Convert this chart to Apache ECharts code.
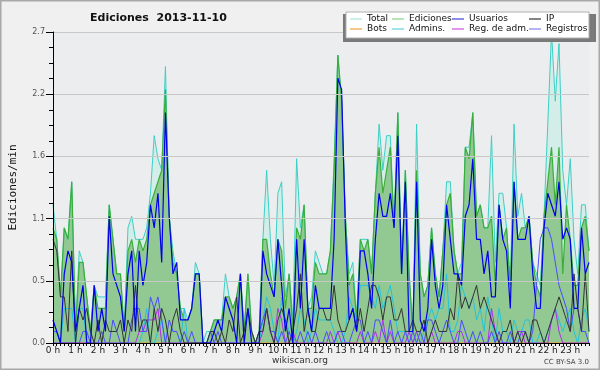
<!DOCTYPE html>
<html><head><meta charset="utf-8">
<script src="https://cdn.jsdelivr.net/npm/echarts@6/dist/echarts.min.js"></script>
<style>html,body{margin:0;padding:0;background:#f0f0f0}#c{width:600px;height:370px}</style>
</head><body><div id="c"></div>
<script>
const hourLabels = ['0 h','1 h','2 h','3 h','4 h','5 h','6 h','7 h','8 h','9 h','10 h','11 h','12 h','13 h','14 h','15 h','16 h','17 h','18 h','19 h','20 h','21 h','22 h','23 h'];

const total = [1.2,0.9,0.4,1.0,0.9,1.4,0.1,0.8,0.7,0.4, 0.1,0.5,0.4,0.4,0.4,1.2,0.9,0.6,0.6,0.1, 1.0,1.1,0.9,0.9,0.9,1.0,1.3,1.8,1.6,1.5, 2.4,1.1,0.8,0.6,0.3,0.3,
 0.2,0.3,0.7,0.6,0.0,0.1,0.1,0.2,0.2,0.2, 0.6,0.4,0.3,0.4,0.6,0.1,0.6,0.1,0.0,0.1, 0.9,1.5,0.9,0.5,1.3,1.4,0.4,0.6,0.2,1.6, 1.0,1.2,0.3,0.4,0.8,0.7,
 0.6,0.6,0.8,1.6,2.5,2.1,1.1,0.6,0.7,0.2, 0.9,0.9,0.9,0.6,1.3,1.9,1.5,1.8,1.8,1.0, 2.0,0.6,1.5,0.6,0.1,1.9,0.6,0.4,0.5,1.0, 0.6,0.4,0.8,1.4,1.4,0.8,
 0.6,0.7,1.7,1.7,2.0,1.1,1.2,1.0,1.0,1.8, 0.7,1.3,1.3,1.0,0.5,1.9,1.1,1.3,1.0,1.1, 0.7,0.6,0.5,1.1,1.9,2.7,2.1,2.6,1.5,1.2, 1.6,0.9,0.6,1.2,1.2,0.8];
const ediciones = [1.0,0.9,0.4,1.0,0.9,1.4,0.1,0.7,0.7,0.4, 0.1,0.5,0.3,0.3,0.3,1.2,0.9,0.6,0.6,0.1, 0.8,0.9,0.7,0.9,0.8,0.9,1.2,1.3,1.4,1.5, 2.2,1.1,0.7,0.6,0.3,0.2,
 0.2,0.3,0.6,0.6,0.0,0.0,0.1,0.2,0.2,0.2, 0.4,0.4,0.3,0.4,0.6,0.1,0.6,0.1,0.0,0.1, 0.9,0.9,0.6,0.4,0.9,0.8,0.3,0.6,0.1,1.0, 0.9,1.2,0.3,0.3,0.7,0.6,
 0.6,0.6,0.8,1.5,2.5,2.1,1.1,0.5,0.6,0.2, 0.9,0.8,0.9,0.6,1.3,1.7,1.3,1.5,1.7,1.0, 2.0,0.6,1.5,0.6,0.1,1.5,0.6,0.4,0.5,1.0, 0.6,0.4,0.8,1.2,1.3,0.8,
 0.6,0.6,1.7,1.6,2.0,1.1,1.2,1.0,1.0,1.1, 0.5,1.2,0.9,1.0,0.5,1.4,0.9,1.0,1.0,1.1, 0.7,0.5,0.4,1.1,1.4,1.7,1.2,1.7,0.6,1.2, 0.9,0.5,0.5,1.0,1.1,0.8];
const usuarios = [0.2,0.1,0.0,0.6,0.8,0.7,0.1,0.3,0.5,0.0, 0.0,0.5,0.1,0.3,0.1,1.1,0.6,0.5,0.4,0.1, 0.6,0.8,0.1,0.8,0.5,0.7,1.2,1.0,1.3,0.7, 2.0,1.1,0.6,0.7,0.2,0.2,
 0.2,0.3,0.6,0.6,0.0,0.0,0.0,0.1,0.2,0.1, 0.4,0.3,0.2,0.0,0.6,0.0,0.3,0.0,0.0,0.0, 0.8,0.6,0.5,0.4,0.9,0.5,0.1,0.3,0.0,0.9, 0.3,0.9,0.3,0.1,0.5,0.3,
 0.3,0.3,0.3,0.9,2.3,2.2,1.0,0.2,0.3,0.1, 0.8,0.8,0.6,0.3,0.9,1.3,1.1,1.1,1.3,1.0, 1.8,0.6,1.4,0.1,0.1,1.4,0.2,0.1,0.3,0.9, 0.5,0.3,0.5,1.2,0.9,0.6,
 0.6,0.5,1.1,1.2,1.6,0.9,0.9,0.6,0.8,0.4, 0.4,1.2,0.9,0.8,0.3,1.4,0.9,0.9,0.9,1.1, 0.6,0.3,0.3,1.0,1.3,1.2,1.1,1.4,0.9,1.0, 0.9,0.3,0.3,1.0,0.6,0.7];
const ip = [0.9,0.8,0.4,0.4,0.1,0.8,0.0,0.3,0.2,0.3, 0.1,0.0,0.2,0.0,0.2,0.1,0.1,0.1,0.2,0.0, 0.2,0.1,0.5,0.1,0.2,0.2,0.0,0.3,0.1,0.3, 0.2,0.0,0.2,0.3,0.1,0.0,
 0.0,0.0,0.0,0.0,0.0,0.0,0.1,0.1,0.0,0.1, 0.0,0.2,0.1,0.4,0.0,0.1,0.3,0.1,0.0,0.1, 0.1,0.3,0.1,0.0,0.2,0.3,0.2,0.0,0.1,0.3, 0.6,0.1,0.3,0.1,0.1,0.3,
 0.3,0.2,0.2,0.5,0.2,0.1,0.1,0.2,0.3,0.1, 0.3,0.1,0.3,0.5,0.5,0.4,0.2,0.4,0.4,0.2, 0.2,0.3,0.1,0.1,0.2,0.1,0.1,0.2,0.0,0.1, 0.2,0.1,0.1,0.1,0.3,0.2,
 0.6,0.3,0.4,0.3,0.4,0.5,0.3,0.4,0.3,0.2, 0.1,0.0,0.1,0.1,0.2,0.0,0.1,0.0,0.1,0.0, 0.2,0.2,0.1,0.0,0.1,0.2,0.3,0.4,0.3,0.2, 0.1,0.6,0.3,0.1,0.6,0.1];
const bots = [0,0,0,0,0,0,0,0,0,0,0,0,0,0,0,0,0,0,0,0,0,0,0,0,0,0,0,0,0,0,0,0,0,0,0,0,
 0,0,0,0,0,0,0,0,0,0,0,0,0,0,0,0,0,0,0,0,0,0,0,0,0,0,0,0,0,0,0,0,0,0,0,0,
 0,0,0,0,0,0,0,0,0,0,0,0,0,0,0,0,0,0,0,0,0,0,0,0,0,0,0,0,0,0,0,0,0,0,0,0,
 0,0,0,0,0,0,0,0,0,0,0,0,0,0,0,0,0,0,0,0,0,0,0,0,0,0,0,0,0,0,0,0,0,0,0,0];
const admins = [0.0,0.0,0.0,0.3,0.3,0.3,0.0,0.3,0.3,0.0, 0.0,0.0,0.0,0.0,0.0,0.0,0.0,0.0,0.0,0.0, 0.0,0.0,0.0,0.0,0.1,0.3,0.0,0.0,0.1,0.2, 0.0,0.0,0.0,0.0,0.0,0.3,
 0.0,0.0,0.0,0.0,0.0,0.0,0.0,0.0,0.0,0.0, 0.0,0.0,0.0,0.0,0.0,0.0,0.0,0.0,0.0,0.0, 0.2,0.4,0.3,0.1,0.0,0.4,0.2,0.1,0.0,0.1, 0.3,0.2,0.0,0.1,0.3,0.2,
 0.2,0.2,0.2,0.1,0.0,0.0,0.1,0.4,0.3,0.2, 0.5,0.5,0.5,0.4,0.3,0.5,0.3,0.4,0.5,0.3, 0.1,0.1,0.1,0.1,0.0,0.1,0.0,0.1,0.2,0.3, 0.2,0.3,0.3,0.6,0.1,0.1,
 0.2,0.5,0.4,0.3,0.4,0.2,0.3,0.1,0.4,0.2, 0.0,0.3,0.1,0.1,0.0,0.2,0.1,0.1,0.2,0.2, 0.0,0.0,0.1,0.0,0.1,0.2,0.3,0.2,0.1,0.2, 0.3,0.1,0.0,0.2,0.3,0.1];
const regAdm = [0,0,0,0,0,0,0,0,0,0, 0,0,0,0,0,0,0,0,0,0, 0,0,0,0.1,0.1,0.2,0.2,0.2,0.3,0, 0,0,0,0,0,0,
 0,0,0,0,0,0,0,0,0,0, 0,0,0,0,0,0,0,0,0,0, 0.1,0.3,0.1,0,0.3,0.2,0,0,0.1,0, 0,0,0,0,0,0,
 0,0,0.1,0,0.1,0,0,0,0,0, 0.1,0,0,0,0.1,0,0.2,0,0.1,0, 0,0,0,0.1,0,0.1,0,0,0,0.1, 0,0,0,0,0,0,
 0.1,0.1,0,0,0,0,0,0,0,0.3, 0.1,0,0,0,0,0,0.1,0.1,0,0, 0,0,0,0,0,0.2,0.3,0.1,0,0, 0,0,0,0,0,0];
const registros = [0.1,0.1,0.0,0.0,0.0,0.0,0.0,0.0,0.1,0.1, 0.0,0.0,0.0,0.1,0.0,0.0,0.2,0.1,0.0,0.0, 0.0,0.2,0.3,0.3,0.1,0.1,0.4,0.3,0.4,0.2, 0.0,0.2,0.1,0.1,0.0,0.1,
 0.0,0.1,0.0,0.0,0.0,0.0,0.1,0.0,0.1,0.0, 0.0,0.0,0.0,0.0,0.0,0.0,0.0,0.0,0.0,0.1, 0.2,0.3,0.1,0.1,0.0,0.1,0.0,0.1,0.0,0.0, 0.1,0.0,0.1,0.0,0.1,0.0,
 0.0,0.1,0.0,0.0,0.1,0.1,0.0,0.0,0.1,0.2, 0.2,0.0,0.1,0.0,0.2,0.2,0.1,0.0,0.2,0.0, 0.1,0.0,0.1,0.0,0.1,0.0,0.1,0.0,0.2,0.2, 0.1,0.0,0.1,0.2,0.1,0.0,
 0.0,0.2,0.1,0.0,0.1,0.0,0.1,0.0,0.0,0.1, 0.0,0.1,0.0,0.0,0.1,0.0,0.0,0.1,0.1,0.0, 0.1,0.5,0.9,1.0,1.0,0.9,0.7,0.5,0.4,0.3, 0.1,0.3,0.3,0.1,0.1,0.0];

const times = [];
for (let h = 0; h < 24; h++) for (let m = 0; m < 60; m += 10) times.push(h + ':' + (m < 10 ? '0' : '') + m);

const F = '"DejaVu Sans", sans-serif';
const colCls = {'Total':'a','Bots':'a','Ediciones':'b','Admins.':'b','Usuarios':'c','Reg. de adm.':'c','IP':'d','Registros':'d'};

function line(name, data, lineColor, legendColor, width, extra) {
  return Object.assign({
    name, type: 'line', data, showSymbol: false, symbol: 'none', animation: false,
    itemStyle: {color: legendColor},
    lineStyle: {color: lineColor, width: width},
    emphasis: {disabled: true}
  }, extra || {});
}

const chart = echarts.init(document.getElementById('c'), null, {renderer: 'canvas'});
chart.setOption({
  backgroundColor: '#f0f0f0',
  animation: false,
  title: {
    text: 'Ediciones  2013-11-10', left: 85, top: 8,
    textStyle: {fontFamily: F, fontSize: 11, fontWeight: 'bold', color: '#111'}
  },
  grid: {left: 46, right: 11, top: 32, bottom: 27, show: true, backgroundColor: '#ecedef', borderWidth: 0},
  legend: {
    left: 350, top: 14, width: 246, padding: 0, itemGap: 0,
    itemWidth: 12, itemHeight: 1.2, icon: 'rect', z: 20,
    data: ['Total','Ediciones','Usuarios','IP','Bots','Admins.','Reg. de adm.','Registros'],
    formatter: n => '{' + colCls[n] + '|' + n + '}',
    textStyle: {
      fontFamily: F, fontSize: 9, color: '#111', lineHeight: 10,
      rich: {
        a: {width: 25, fontFamily: F, fontSize: 9, color: '#111', lineHeight: 10},
        b: {width: 43, fontFamily: F, fontSize: 9, color: '#111', lineHeight: 10},
        c: {width: 60, fontFamily: F, fontSize: 9, color: '#111', lineHeight: 10},
        d: {width: 44, fontFamily: F, fontSize: 9, color: '#111', lineHeight: 10}
      }
    },
    selectedMode: false
  },
  xAxis: {
    type: 'category', data: times, boundaryGap: false, z: 5,
    axisLine: {lineStyle: {color: '#000', width: 1}},
    axisTick: {show: true, interval: 0, length: 3, lineStyle: {color: '#000'}},
    axisLabel: {
      interval: 5, margin: 3, fontFamily: F, fontSize: 9, color: '#222',
      formatter: (v, i) => hourLabels[Math.round(i / 6)]
    },
    splitLine: {show: false}
  },
  yAxis: {
    type: 'value', min: 0, max: 2.7, interval: 0.54, z: 5,
    name: 'Ediciones/min', nameLocation: 'middle', nameGap: 34, nameRotate: 90,
    nameTextStyle: {fontFamily: '"DejaVu Sans Mono", monospace', fontSize: 11, color: '#111'},
    axisLine: {show: true, lineStyle: {color: '#000'}},
    axisTick: {show: true, length: 7, lineStyle: {color: '#000'}},
    minorTick: {show: true, splitNumber: 4, length: 4, lineStyle: {color: '#000'}},
    axisLabel: {margin: 8, fontFamily: F, fontSize: 8, color: '#555', formatter: v => v.toFixed(1)},
    splitLine: {show: true, lineStyle: {color: '#c8c8c8', width: 1}}
  },
  series: [
    line('Total', total, '#3ccfc6', '#a8e6dc', 1, {areaStyle: {color: '#d3eee8', opacity: 1}}),
    line('Ediciones', ediciones, '#3aae3a', '#88d488', 1.2, {areaStyle: {color: '#92c992', opacity: 1}}),
    line('Bots', bots, '#f39a2c', '#f0a040', 1),
    line('Admins.', admins, '#22c4dd', '#5fd0e0', 1),
    line('Reg. de adm.', regAdm, '#b22ee6', '#d050e0', 1),
    line('Registros', registros, '#4b4bff', '#8080f0', 1),
    line('IP', ip, '#333333', '#333333', 1),
    line('Usuarios', usuarios, '#0000ee', '#4040e0', 1.2)
  ],
  graphic: [
    {type: 'rect', z: 10, shape: {x: 343, y: 14, width: 253, height: 28}, style: {fill: '#7a7a7a'}},
    {type: 'rect', z: 11, shape: {x: 346, y: 12, width: 243, height: 26}, style: {fill: '#ffffff', stroke: '#b0b0b0', lineWidth: 1}},
    {type: 'text', z: 12, left: 'center', top: 356, style: {text: 'wikiscan.org', font: '9px "DejaVu Sans", sans-serif', fill: '#333'}},
    {type: 'text', z: 12, right: 11, top: 359, style: {text: 'CC BY-SA 3.0', font: '7px "DejaVu Sans", sans-serif', fill: '#444'}},
    {type: 'rect', z: 12, shape: {x: 0.75, y: 0.75, width: 598.5, height: 368.5}, style: {fill: 'none', stroke: '#a8a8a8', lineWidth: 1.5}}
  ]
});
</script></body></html>
